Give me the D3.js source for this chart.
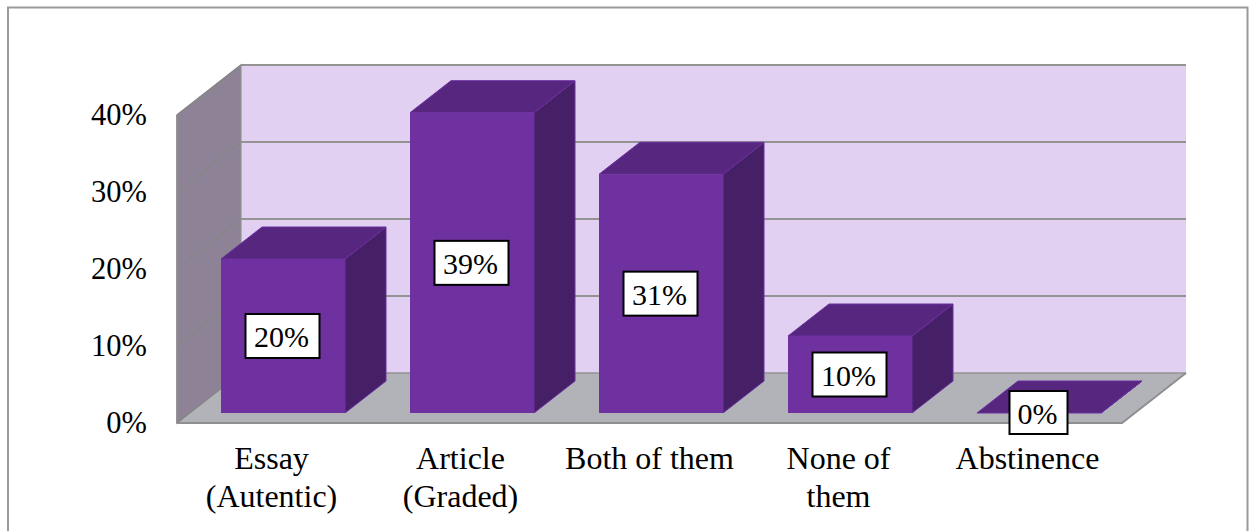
<!DOCTYPE html>
<html>
<head>
<meta charset="utf-8">
<script src="https://cdn.jsdelivr.net/npm/d3@7/dist/d3.min.js"></script>
<style>
  html, body { margin: 0; padding: 0; background: #fff; }
  svg { display: block; }
  text { font-family: "Liberation Serif", serif; fill: #000; }
</style>
</head>
<body>
<svg id="chart" width="1249" height="531"></svg>
<script>
var categories = [["Essay", "(Autentic)"], ["Article", "(Graded)"], ["Both of them"], ["None of", "them"], ["Abstinence"]]
var values = [20, 39, 31, 10, 0]
var dataLabels = ["20%", "39%", "31%", "10%", "0%"]
var ticks = [0, 10, 20, 30, 40]

var svg = d3.select("#chart")

// frame of the chart, open at the bottom like the picture
svg.append("path")
  .attr("d", "M8,531V7.5H1247.5V531")
  .attr("fill", "none")
  .attr("stroke", "#9a9a9a")
  .attr("stroke-width", 2)

var depthX = 64, depthY = -50
var barDepthX = 41, barDepthY = -32

var y = d3.scaleLinear().domain([0, 40]).range([423, 115])
var x = d3.scaleBand().domain(d3.range(categories.length)).range([177, 1122]).paddingInner(0).paddingOuter(0)
var barW = 124
var barLift = 10

function poly(pts) { return pts.map(function(p) { return p.join(",") }).join(" ") }

// side wall
svg.append("polygon")
  .attr("points", poly([[177, y(0)], [177, y(40)], [177 + depthX, y(40) + depthY], [177 + depthX, y(0) + depthY]]))
  .attr("fill", "#8e8296")
  .attr("stroke", "#868686")
  .attr("stroke-width", 1.5)

// back wall
svg.append("rect")
  .attr("x", 177 + depthX)
  .attr("y", y(40) + depthY)
  .attr("width", 1122 - 177)
  .attr("height", y(0) - y(40))
  .attr("fill", "#e2d0f2")

// floor
svg.append("polygon")
  .attr("points", poly([[177, y(0)], [177 + depthX, y(0) + depthY], [1122 + depthX, y(0) + depthY], [1122, y(0)]]))
  .attr("fill", "#b1b3b9")

// gridlines: thin on the side wall, heavier on the back wall
ticks.forEach(function(t) {
  svg.append("line")
    .attr("x1", 177).attr("y1", y(t))
    .attr("x2", 177 + depthX).attr("y2", y(t) + depthY)
    .attr("stroke", "#868686")
    .attr("stroke-width", 1.2)
  svg.append("line")
    .attr("x1", 177 + depthX).attr("y1", y(t) + depthY)
    .attr("x2", 1122 + depthX).attr("y2", y(t) + depthY)
    .attr("stroke", "#939393")
    .attr("stroke-width", t === 0 ? 1.5 : 2)
})

// corner of the walls
svg.append("line")
  .attr("x1", 177 + depthX).attr("y1", y(40) + depthY)
  .attr("x2", 177 + depthX).attr("y2", y(0) + depthY)
  .attr("stroke", "#939393").attr("stroke-width", 1.2)

// floor edges
svg.append("polyline")
  .attr("points", poly([[177, y(0)], [1122, y(0)], [1122 + depthX, y(0) + depthY]]))
  .attr("fill", "none")
  .attr("stroke", "#8f8f8f")
  .attr("stroke-width", 2)
svg.append("line")
  .attr("x1", 177).attr("y1", y(0)).attr("x2", 177).attr("y2", y(40))
  .attr("stroke", "#8f8f8f").attr("stroke-width", 1.5)

// bars
var bars = svg.append("g").selectAll("g").data(values).enter().append("g")

function barLeft(i) { return x(i) + 44 }
function barTop(d) { return y(d) - barLift }
function barBottom() { return y(0) - barLift }
function barMid(d) { return (barTop(d) + barBottom()) / 2 }

bars.append("polygon")
  .attr("points", function(d, i) {
    var l = barLeft(i) + barW, t = barTop(d), b = barBottom()
    return poly([[l, t], [l + barDepthX, t + barDepthY], [l + barDepthX, b + barDepthY], [l, b]])
  })
  .attr("fill", "#462066")
  .attr("stroke", "#6a2fa0")
  .attr("stroke-width", 1)

bars.append("polygon")
  .attr("points", function(d, i) {
    var l = barLeft(i), t = barTop(d)
    return poly([[l, t], [l + barDepthX, t + barDepthY], [l + barW + barDepthX, t + barDepthY], [l + barW, t]])
  })
  .attr("fill", "#57267e")
  .attr("stroke", "#6a2fa0")
  .attr("stroke-width", 1)

bars.append("rect")
  .attr("x", function(d, i) { return barLeft(i) })
  .attr("y", function(d) { return barTop(d) })
  .attr("width", barW)
  .attr("height", function(d) { return barBottom() - barTop(d) })
  .attr("fill", "#6f319f")

// data labels, the 0% box hangs below the flat bar
var labels = svg.append("g").selectAll("g").data(values).enter().append("g")
function labelX(i) { return barLeft(i) + 61.5 }
labels.append("rect")
  .attr("x", function(d, i) { return labelX(i) - (d === 0 ? 29 : 37) })
  .attr("y", function(d) { return d === 0 ? 391 : barMid(d) - 22 })
  .attr("width", function(d) { return d === 0 ? 58 : 74 })
  .attr("height", function(d) { return d === 0 ? 43 : 44 })
  .attr("fill", "#fff")
  .attr("stroke", "#000")
  .attr("stroke-width", 2)
labels.append("text")
  .attr("x", function(d, i) { return labelX(i) - 1 })
  .attr("y", function(d) { return d === 0 ? 424 : barMid(d) + 11 })
  .attr("text-anchor", "middle")
  .attr("font-size", 30)
  .text(function(d, i) { return dataLabels[i] })

// y tick labels
svg.append("g").selectAll("text").data(ticks).enter().append("text")
  .attr("x", 147)
  .attr("y", function(d) { return y(d) + 10 })
  .attr("text-anchor", "end")
  .attr("font-size", 30.5)
  .text(function(d) { return d + "%" })

// category labels
var cats = svg.append("g").selectAll("text").data(categories).enter().append("text")
  .attr("text-anchor", "middle")
  .attr("font-size", 32)
cats.selectAll("tspan").data(function(d) { return d }).enter().append("tspan")
  .attr("y", function(d, j) { return 469 + j * 38 })
  .attr("x", function() {
    var i = categories.indexOf(d3.select(this.parentNode).datum())
    return x(i) + x.bandwidth() / 2
  })
  .text(function(d) { return d })
</script>
</body>
</html>
